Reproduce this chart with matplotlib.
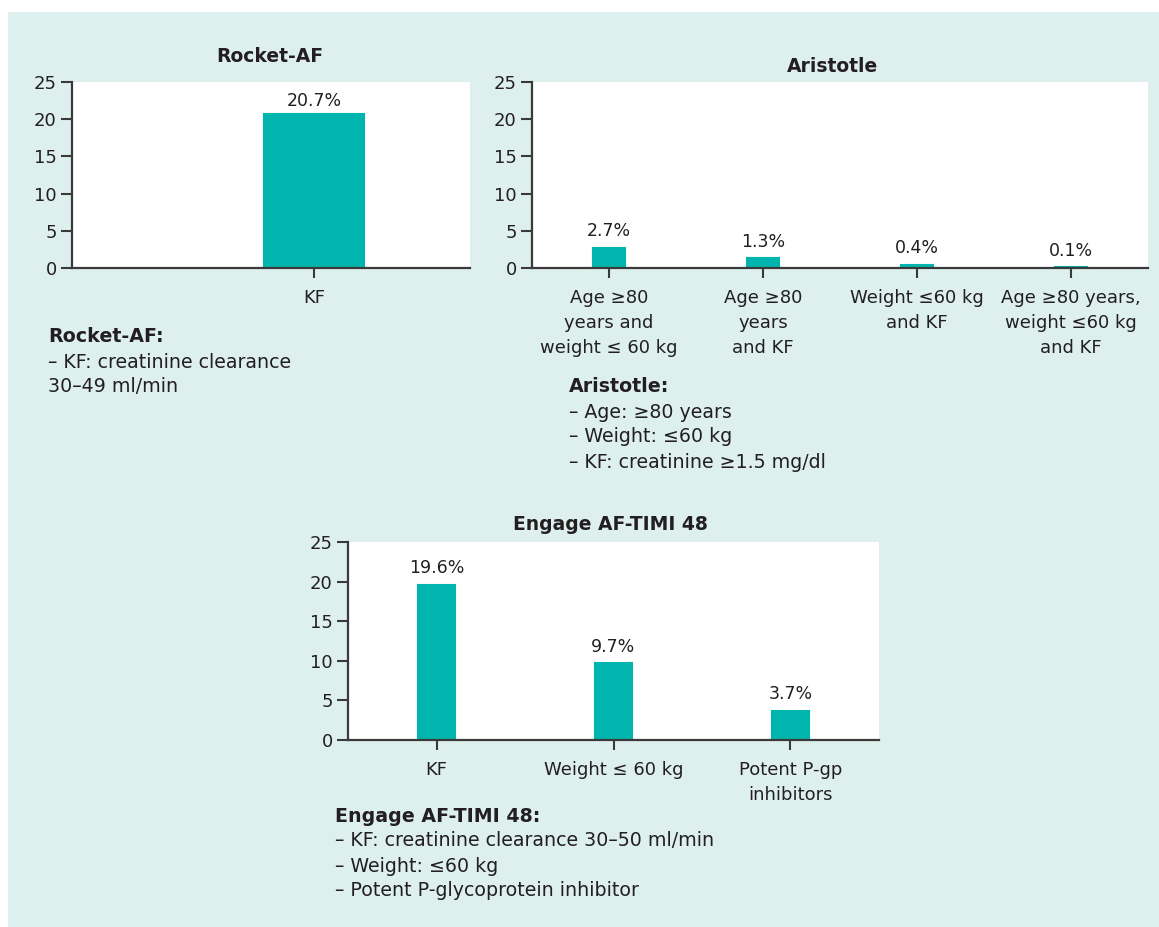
import numpy as np
import matplotlib
matplotlib.use("Agg")
import matplotlib.pyplot as plt
from matplotlib.patches import Rectangle

plt.rcParams['font.family'] = ['DejaVu Sans']

# Datos
rocket_labels = ["KF"]
rocket_values = [20.7]

aristotle_labels = ["Age \u226580\nyears and\nweight \u2264 60 kg",
                    "Age \u226580\nyears\nand KF",
                    "Weight \u226460 kg\nand KF",
                    "Age \u226580 years,\nweight \u226460 kg\nand KF"]
aristotle_values = [2.7, 1.3, 0.4, 0.1]

engage_labels = ["KF", "Weight \u2264 60 kg", "Potent P-gp\ninhibitors"]
engage_values = [19.6, 9.7, 3.7]

rocket_notes = ["Rocket-AF:", "\u2013 KF: creatinine clearance", "30\u201349 ml/min"]
aristotle_notes = ["Aristotle:", "\u2013 Age: \u226580 years", "\u2013 Weight: \u226460 kg",
                   "\u2013 KF: creatinine \u22651.5 mg/dl"]
engage_notes = ["Engage AF-TIMI 48:", "\u2013 KF: creatinine clearance 30\u201350 ml/min",
                "\u2013 Weight: \u226460 kg", "\u2013 Potent P-glycoprotein inhibitor"]

yticks = [0, 5, 10, 15, 20, 25]

# Colores
fondo = "#DDF0EE"
barra = "#00B5AD"
texto = "#231F20"
eje = "#3a3a3a"

W, H = 1159, 927
fig = plt.figure(figsize=(W / 100, H / 100), dpi=100)
fig.patch.set_facecolor("white")
fig.patches.append(Rectangle((8 / W, 0), 1 - 8 / W, 1 - 12 / H, transform=fig.transFigure,
                             facecolor=fondo, edgecolor="none", zorder=-10))


def caja(x0, y0, x1, y1):
    return [x0 / W, 1 - y1 / H, (x1 - x0) / W, (y1 - y0) / H]


def grafico(rect, etiquetas, valores, xlim, ancho, offset):
    ax = fig.add_axes(rect)
    x = np.arange(len(valores))
    ax.bar(x, valores, width=ancho, color=barra, edgecolor=barra, linewidth=1.5, zorder=2)
    for xi, v in zip(x, valores):
        ax.annotate("{}%".format(v), (xi, v), xytext=(0, offset), textcoords="offset points",
                    ha="center", va="center", fontsize=12.5, color=texto)
    ax.set_xlim(*xlim)
    ax.set_ylim(0, 25)
    ax.set_yticks(yticks)
    ax.set_xticks(x)
    ax.set_xticklabels(etiquetas, fontsize=13, color=texto, linespacing=1.5)
    ax.tick_params(axis="y", labelsize=13, labelcolor=texto, color=eje, width=1.5,
                   length=8, pad=3)
    ax.tick_params(axis="x", color=eje, width=1.5, length=7, pad=8)
    for s in ["top", "right"]:
        ax.spines[s].set_visible(False)
    for s in ["left", "bottom"]:
        ax.spines[s].set_color(eje)
        ax.spines[s].set_linewidth(1.6)
    ax.set_facecolor("white")
    return ax


grafico(caja(72, 82, 470, 268), rocket_labels, rocket_values, (-1.21, 0.78), 0.5, 9)
grafico(caja(532, 82, 1148, 268), aristotle_labels, aristotle_values, (-0.5, 3.5), 0.21, 12)
grafico(caja(348, 542, 879, 740), engage_labels, engage_values, (-0.5, 2.5), 0.21, 12)

# Titulos
fig.text(270 / W, 1 - 57 / H, "Rocket-AF", ha="center", va="center", fontsize=13.5,
         fontweight="bold", color=texto)
fig.text(833 / W, 1 - 67 / H, "Aristotle", ha="center", va="center", fontsize=13.5,
         fontweight="bold", color=texto)
fig.text(610 / W, 1 - 524 / H, "Engage AF-TIMI 48", ha="center", va="center", fontsize=13.5,
         fontweight="bold", color=texto)


def notas(x, ys, lineas):
    for i, (y, l) in enumerate(zip(ys, lineas)):
        fig.text(x / W, 1 - y / H, l, ha="left", va="center", fontsize=13.7, color=texto,
                 fontweight="bold" if i == 0 else "normal")


notas(48, [337, 362, 387], rocket_notes)
notas(569, [386, 412, 437, 463], aristotle_notes)
notas(335, [816, 841, 867, 891], engage_notes)

fig.savefig("out.png", dpi=100, facecolor=fig.get_facecolor())
